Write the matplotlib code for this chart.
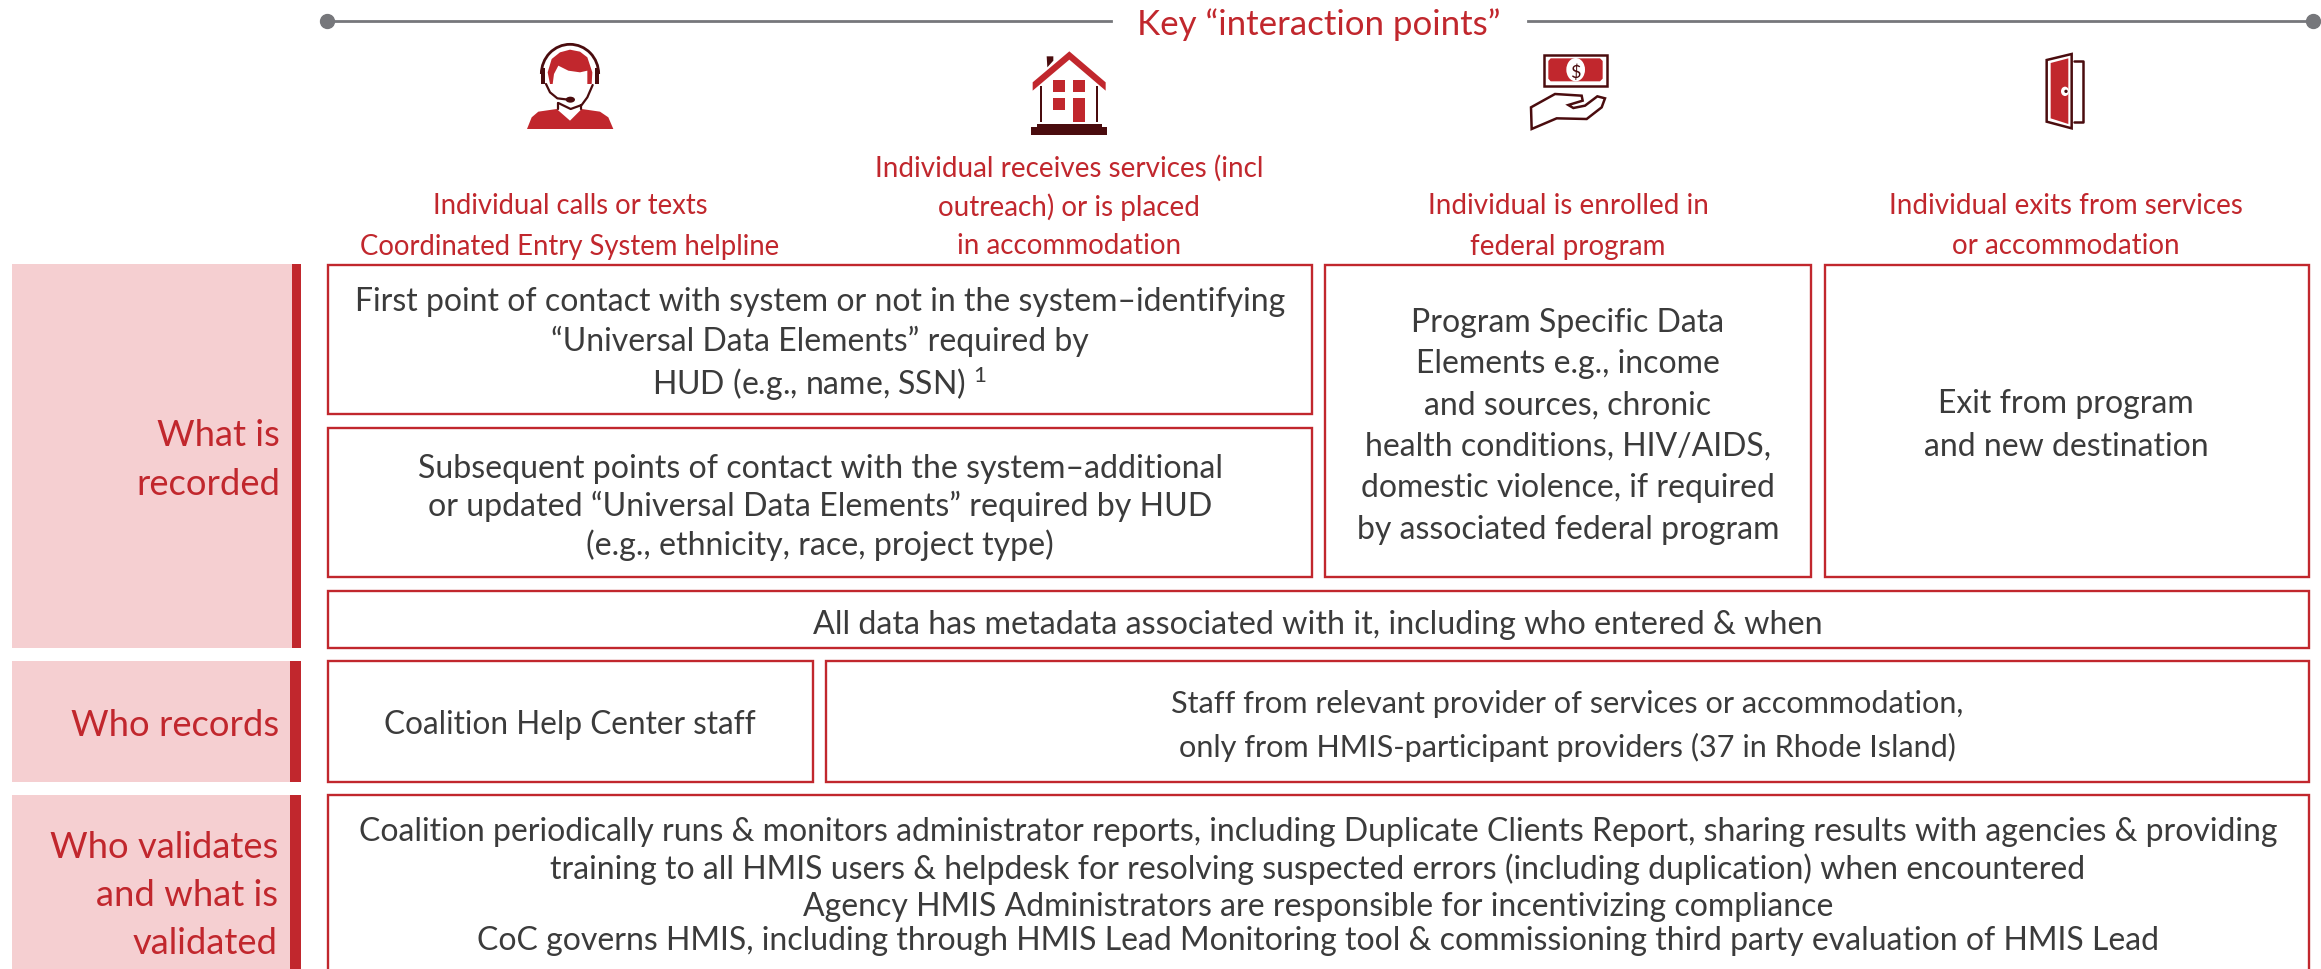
# %%
import matplotlib
matplotlib.use("Agg")
import matplotlib.pyplot as plt
from matplotlib.patches import Rectangle, Polygon, Ellipse, Arc

plt.rcParams['font.family'] = ['Lato', 'DejaVu Sans']
plt.rcParams['mathtext.default'] = 'regular'

RED = "#C1272D"
DARK = "#4A0C0E"
PINK = "#F5CFD1"
GREY = "#76777B"
TEXT = "#3B3B3B"

# %%
title = "Key “interaction points”"

header_1 = ["Individual calls or texts", "Coordinated Entry System helpline"]
header_2 = ["Individual receives services (incl", "outreach) or is placed", "in accommodation"]
header_3 = ["Individual is enrolled in", "federal program"]
header_4 = ["Individual exits from services", "or accommodation"]

row_what = ["What is", "recorded"]
row_who = ["Who records"]
row_valid = ["Who validates", "and what is", "validated"]

first_contact = ["First point of contact with system or not in the system–identifying",
                 "“Universal Data Elements” required by",
                 "HUD (e.g., name, SSN) $^{1}$"]
later_contact = ["Subsequent points of contact with the system–additional",
                 "or updated “Universal Data Elements” required by HUD",
                 "(e.g., ethnicity, race, project type)"]
program_data = ["Program Specific Data",
                "Elements e.g., income",
                "and sources, chronic",
                "health conditions, HIV/AIDS,",
                "domestic violence, if required",
                "by associated federal program"]
exit_data = ["Exit from program", "and new destination"]
metadata = ["All data has metadata associated with it, including who entered & when"]
help_staff = ["Coalition Help Center staff"]
provider_staff = ["Staff from relevant provider of services or accommodation,",
                  "only from HMIS-participant providers (37 in Rhode Island)"]
validation = ["Coalition periodically runs & monitors administrator reports, including Duplicate Clients Report, sharing results with agencies & providing",
              "training to all HMIS users & helpdesk for resolving suspected errors (including duplication) when encountered",
              "Agency HMIS Administrators are responsible for incentivizing compliance",
              "CoC governs HMIS, including through HMIS Lead Monitoring tool & commissioning third party evaluation of HMIS Lead"]

# %%
# the axes are in reference pixels, y going down
fig = plt.figure(figsize=(23.21, 9.70), dpi=100)
ax = fig.add_axes([0, 0, 1, 1])
ax.set_xlim(0, 2321)
ax.set_ylim(970, 0)
ax.axis("off")


def lines(x, ys, texts, size=23.0, color=TEXT, ha="center"):
    for y, t in zip(ys, texts):
        ax.text(x, y, t, fontsize=size, color=color, ha=ha, va="center_baseline")


def box(x0, y0, x1, y1):
    ax.add_patch(Rectangle((x0, y0), x1 - x0, y1 - y0, fc="white", ec=RED, lw=1.7))


def band(y0, y1, bar_x):
    ax.add_patch(Rectangle((12, y0), bar_x - 12, y1 - y0, fc=PINK, ec="none"))
    ax.add_patch(Rectangle((bar_x, y0), 301 - bar_x, y1 - y0, fc=RED, ec="none"))


# top rule
ax.plot([327, 1111], [22, 22], color=GREY, lw=2)
ax.plot([1528, 2313], [22, 22], color=GREY, lw=2)
ax.plot([327, 2313], [22, 22], "o", color=GREY, ms=10, ls="none")
ax.text(1319, 22, title, fontsize=25.1, color=RED, ha="center", va="center_baseline")

# headers
lines(570, [204, 244], header_1, size=19.8, color=RED)
lines(1069, [166, 205, 243], header_2, size=20, color=RED)
lines(1568, [204, 244], header_3, size=20, color=RED)
lines(2066, [204, 244], header_4, size=20, color=RED)

# left bands
band(265, 649, 292)
band(662, 783, 290)
band(796, 980, 290)
lines(280, [433, 482], row_what, size=26.2, color=RED, ha="right")
lines(279, [723], row_who, size=26.2, color=RED, ha="right")
lines(278, [845, 893, 941], row_valid, size=26.2, color=RED, ha="right")

# boxes
box(328, 266, 1312, 415)
box(328, 429, 1312, 578)
box(1325, 266, 1811, 578)
box(1825, 266, 2309, 578)
box(328, 592, 2309, 649)
box(328, 662, 813, 783)
box(826, 662, 2309, 783)
box(328, 796, 2309, 985)

lines(820, [299, 338, 380], first_contact)
lines(820, [466, 503, 542], later_contact, size=23.1)
lines(1568, [320, 361, 403, 444, 485, 527], program_data)
lines(2066, [401, 444], exit_data)
lines(1318, [622], metadata, size=23.2)
lines(570, [722], help_staff, size=22.7)
lines(1567, [702, 745], provider_staff, size=22.1)
lines(1318, [829, 866, 904, 938], validation)


# %%
# icons, points are taken from crops at 3x
def icon_xy(ox, oy, pts):
    return [(ox + a / 3, oy + b / 3) for a, b in pts]


def shape(ox, oy, pts, fc=RED, ec="none", lw=0, closed=True):
    ax.add_patch(Polygon(icon_xy(ox, oy, pts), closed=closed, fc=fc, ec=ec, lw=lw))


def stroke(ox, oy, pts, lw=1.6):
    xy = icon_xy(ox, oy, pts)
    ax.plot([p[0] for p in xy], [p[1] for p in xy], color=DARK, lw=lw, solid_capstyle="round")


# headset person
ox, oy = 500, 30
ax.add_patch(Arc((ox + 210 / 3, oy + 135 / 3), 172 / 3, 178 / 3, theta1=180, theta2=360, color=DARK, lw=2))
shape(ox, oy, [(124, 117), (136, 117), (136, 165), (124, 165)], fc=DARK)
shape(ox, oy, [(285, 117), (297, 117), (297, 165), (285, 165)], fc=DARK)
shape(ox, oy, [(150, 165), (143, 130), (155, 90), (180, 70), (210, 62), (240, 68), (262, 85), (277, 130), (275, 165),
               (262, 165), (262, 125), (240, 130), (205, 125), (175, 110), (162, 135), (158, 165)])
stroke(ox, oy, [(138, 165), (150, 190), (172, 208), (205, 212)])
stroke(ox, oy, [(278, 168), (262, 205), (245, 228), (212, 240), (175, 222)])
stroke(ox, oy, [(175, 222), (175, 240)])
stroke(ox, oy, [(243, 228), (243, 240)])
ax.add_patch(Ellipse((ox + 211 / 3, oy + 212 / 3), 28 / 3, 18 / 3, fc=DARK, ec="none"))
shape(ox, oy, [(81, 300), (95, 265), (115, 248), (170, 240), (210, 275), (245, 240), (300, 248), (325, 265), (340, 300)])

# house
ox, oy = 1010, 40
shape(ox, oy, [(68, 130), (178, 37), (287, 130), (287, 155), (178, 62), (68, 155)])
shape(ox, oy, [(110, 52), (130, 52), (130, 65), (112, 85)], fc=DARK)
shape(ox, oy, [(90, 140), (96, 140), (96, 248), (90, 248)], fc=DARK)
shape(ox, oy, [(258, 140), (265, 140), (265, 248), (258, 248)], fc=DARK)
shape(ox, oy, [(130, 122), (165, 122), (165, 158), (130, 158)])
shape(ox, oy, [(189, 122), (224, 122), (224, 158), (189, 158)])
shape(ox, oy, [(130, 178), (165, 178), (165, 214), (130, 214)])
shape(ox, oy, [(189, 178), (224, 178), (224, 248), (189, 248)])
shape(ox, oy, [(80, 254), (275, 254), (275, 265), (291, 265), (291, 287), (63, 287), (63, 265), (80, 265)], fc=DARK)

# money and hand
ox, oy = 1510, 40
shape(ox, oy, [(102, 47), (292, 47), (292, 140), (102, 140)], fc="white", ec=DARK, lw=1.8)
shape(ox, oy, [(122, 58), (270, 58), (278, 66), (278, 119), (270, 127), (122, 127), (115, 119), (115, 66)])
ax.add_patch(Ellipse((ox + 197 / 3, oy + 92 / 3), 56 / 3, 70 / 3, fc="white", ec="none"))
ax.text(ox + 197 / 3, oy + 93 / 3, "$", fontsize=13, color=DARK, ha="center", va="center_baseline")
shape(ox, oy, [(63, 205), (135, 165), (215, 170), (218, 185), (175, 198), (190, 207), (225, 200), (262, 172),
               (285, 178), (275, 205), (230, 240), (140, 238), (65, 270)], fc="white", ec=DARK, lw=1.8)

# door
ox, oy = 2020, 40
shape(ox, oy, [(80, 63), (155, 45), (155, 268), (80, 248)], fc="white", ec=DARK, lw=1.8)
shape(ox, oy, [(92, 72), (145, 58), (145, 255), (92, 238)])
stroke(ox, oy, [(163, 65), (190, 65), (190, 250), (163, 250)], lw=1.8)
ax.add_patch(Ellipse((ox + 135 / 3, oy + 157 / 3), 24 / 3, 28 / 3, fc="white", ec="none"))
ax.add_patch(Ellipse((ox + 138 / 3, oy + 157 / 3), 10 / 3, 10 / 3, fc=DARK, ec="none"))

fig.savefig("out.png", dpi=100)
